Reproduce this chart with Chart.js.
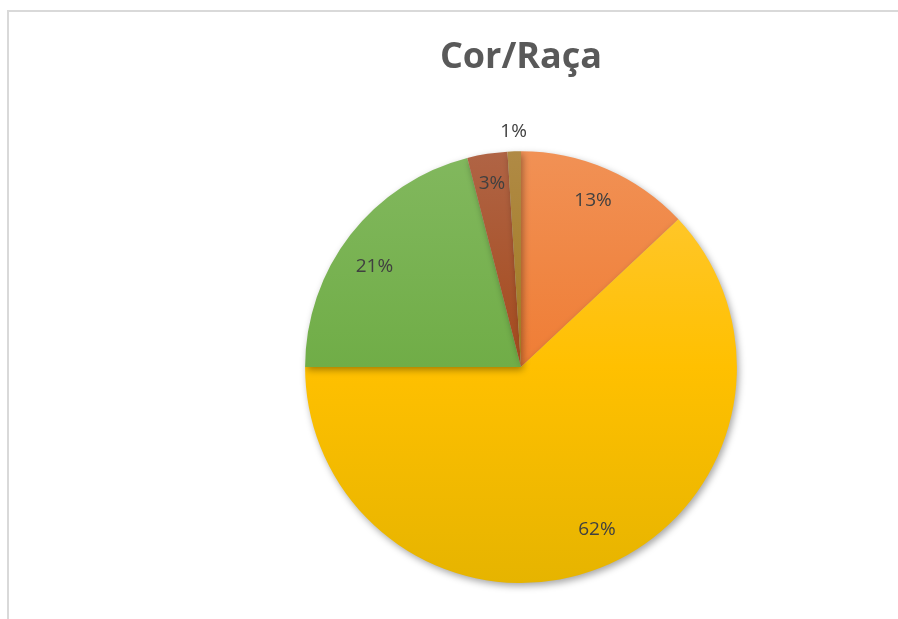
<!DOCTYPE html>
<html>
<head>
<meta charset="utf-8">
<script src="https://cdn.jsdelivr.net/npm/chart.js@4.4.0/dist/chart.umd.min.js"></script>
<style>
    html, body { margin: 0; padding: 0; background: #ffffff; }
    #wrap { position: relative; width: 898px; height: 619px; overflow: hidden; }
    #frame {
        position: absolute; left: 7px; top: 10px; right: -2px; bottom: -2px;
        border-left: 2px solid #d9d9d9; border-top: 2px solid #d9d9d9;
    }
    #chart { position: absolute; left: 0; top: 0; }
</style>
</head>
<body>
<div id="wrap">
    <div id="frame"></div>
    <canvas id="chart" width="898" height="619"></canvas>
</div>
<script>
// Chart data
const categories = ['Amarela', 'Branca', 'Parda', 'Preta', 'Indígena'];
const percentages = [13, 62, 21, 3, 1];
const pctLabels = ['13%', '62%', '21%', '3%', '1%'];

// Office-style colors, light at the top and dark at the bottom
const topColors = ['#f19155', '#ffc93a', '#82b85e', '#b06445', '#b08a45'];
const midColors = ['#ef7d35', '#ffc000', '#70ad47', '#a44a1c', '#a07a20'];
const bottomColors = ['#e06c1c', '#e6b400', '#60a235', '#9a4008', '#967208'];

function sliceGradient(context) {
    const chart = context.chart;
    const area = chart.chartArea;
    if (!area) return midColors[context.dataIndex];
    const i = context.dataIndex;
    const g = chart.ctx.createLinearGradient(0, area.top, 0, area.bottom);
    g.addColorStop(0, topColors[i]);
    g.addColorStop(0.5, midColors[i]);
    g.addColorStop(1, bottomColors[i]);
    return g;
}

// soft shadow under the pie
const pieShadow = {
    id: 'pieShadow',
    beforeDatasetDraw(chart) {
        const ctx = chart.ctx;
        ctx.save();
        ctx.shadowColor = 'rgba(0, 0, 0, 0.35)';
        ctx.shadowBlur = 7;
        ctx.shadowOffsetX = 2;
        ctx.shadowOffsetY = 3;
    },
    afterDatasetDraw(chart) {
        chart.ctx.restore();
    }
};

// percentage labels, inside the slices (small ones pushed out)
const sliceLabels = {
    id: 'sliceLabels',
    afterDatasetsDraw(chart) {
        const ctx = chart.ctx;
        const meta = chart.getDatasetMeta(0);
        const radial = [0.84, 0.83, 0.83, 0.86, 1.09];
        // best-fit nudges, like Excel does
        const nudge = [[0, 0], [10, -4], [-5, 9], [0, 0], [0, 0]];
        ctx.save();
        ctx.font = '19px "Open Sans"';
        ctx.fillStyle = '#404040';
        ctx.textAlign = 'center';
        ctx.textBaseline = 'middle';
        meta.data.forEach((arc, i) => {
            const p = arc.getProps(['x', 'y', 'startAngle', 'endAngle', 'outerRadius']);
            const mid = (p.startAngle + p.endAngle) / 2;
            const r = p.outerRadius * radial[i];
            ctx.fillText(pctLabels[i],
                p.x + Math.cos(mid) * r + nudge[i][0],
                p.y + Math.sin(mid) * r + nudge[i][1]);
        });
        ctx.restore();
    }
};

const ctx = document.getElementById('chart').getContext('2d');
new Chart(ctx, {
    type: 'pie',
    data: {
        labels: categories,
        datasets: [{
            data: percentages,
            backgroundColor: sliceGradient,
            borderWidth: 0
        }]
    },
    options: {
        responsive: false,
        animation: false,
        layout: {
            padding: { left: 305, right: 161, top: 10, bottom: 36 }
        },
        plugins: {
            legend: { display: false },
            tooltip: { enabled: false },
            title: {
                display: true,
                text: 'Cor/Raça',
                color: '#595959',
                font: { family: '"Open Sans"', size: 36, weight: 'bold', lineHeight: 1.2 },
                padding: { top: 26, bottom: 72 }
            }
        }
    },
    plugins: [pieShadow, sliceLabels]
});
</script>
</body>
</html>
